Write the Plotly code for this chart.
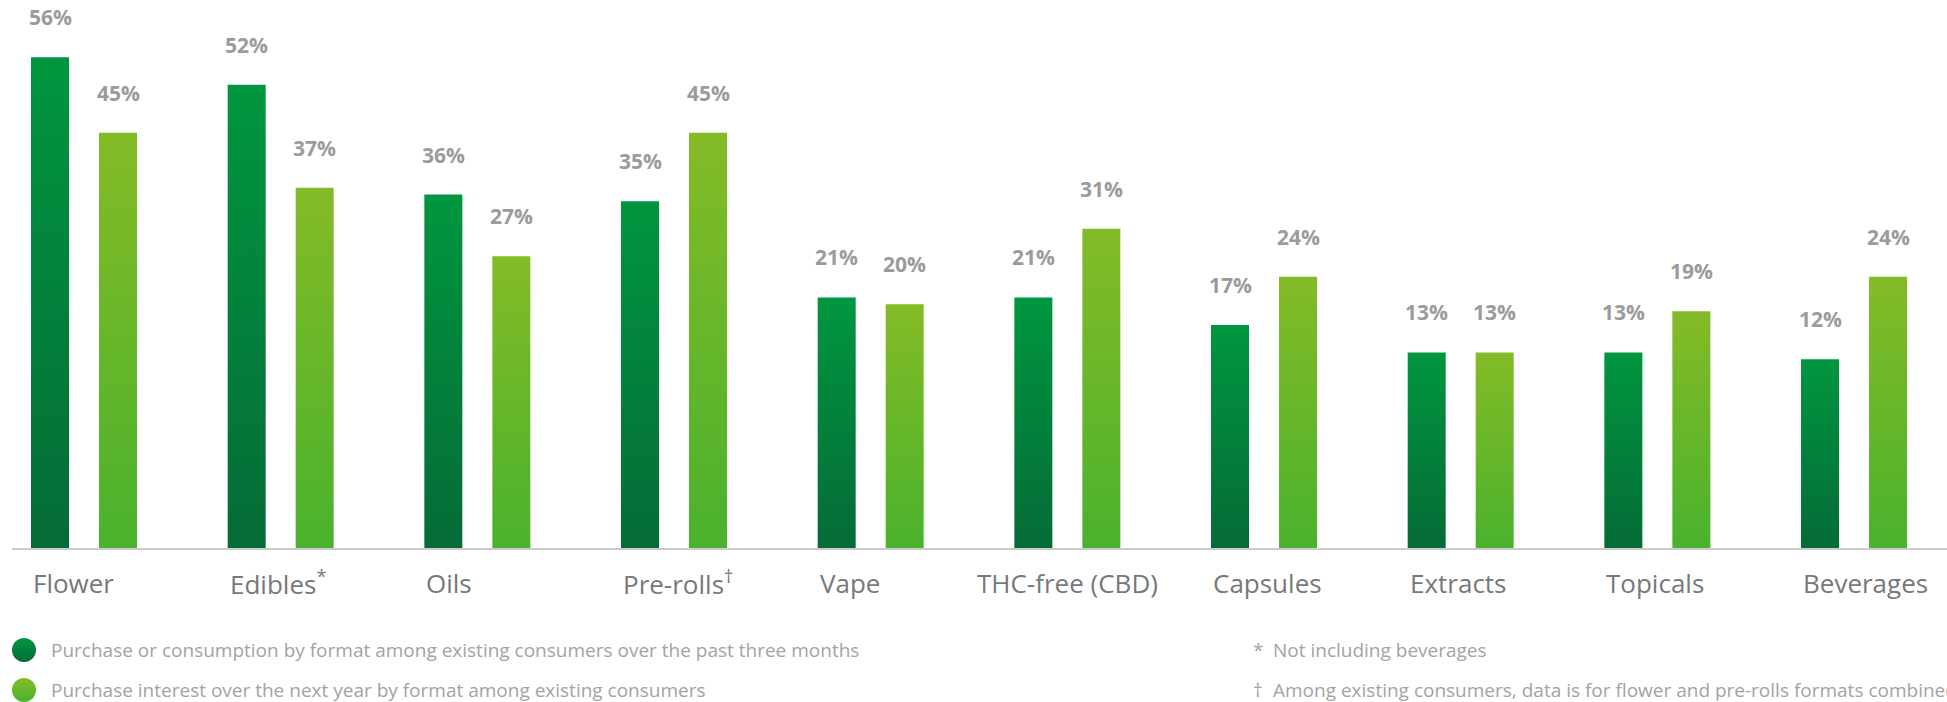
import plotly.graph_objects as go

# ---- data -------------------------------------------------------------
categories = ["Flower", "Edibles", "Oils", "Pre-rolls", "Vape",
              "THC-free (CBD)", "Capsules", "Extracts", "Topicals", "Beverages"]
category_marks = ["", "*", "", "†", "", "", "", "", "", ""]
past_three_months = [56, 52, 36, 35, 21, 21, 17, 13, 13, 12]
next_year_interest = [45, 37, 27, 45, 20, 31, 24, 13, 19, 24]

series_names = [
    "Purchase or consumption by format among existing consumers over the past three months",
    "Purchase interest over the next year by format among existing consumers",
]
footnotes = [("*", "Not including beverages"),
             ("†", "Among existing consumers, data is for flower and pre-rolls formats combined")]

# ---- layout geometry --------------------------------------------------
W, H = 1947, 702
PLOT_LEFT = 12          # px where the baseline starts
BASELINE = 548          # px from top of the baseline
GROUP_PX = 196.67       # px between category groups
FIRST_CENTER = 84       # px of the first group centre
AXIS_FLOOR = -15.5      # value at the baseline
PX_PER_PCT = 6.864

y_top = AXIS_FLOOR + BASELINE / PX_PER_PCT
x_lo = -(FIRST_CENTER - PLOT_LEFT) / GROUP_PX
x_hi = x_lo + (W - PLOT_LEFT) / GROUP_PX

BAR_OFFSET = 34 / GROUP_PX     # bar centre offset from group centre
BAR_HALF = 19 / GROUP_PX       # half bar width

# gradient colours (bottom, top)
dark_grad = ("#056b37", "#00963f")
light_grad = ("#4ab22d", "#84bb26")

LABEL_GREY = "#9b9b9b"
CAT_GREY = "#76787b"
NOTE_GREY = "#a3a3a3"
FONT = "Open Sans"
NOTE_SIZE = 19

fig = go.Figure()

series = [(past_three_months, -BAR_OFFSET, dark_grad),
          (next_year_interest, BAR_OFFSET, light_grad)]

annotations = []
for values, offset, grad in series:
    for i, v in enumerate(values):
        xc = i + offset
        xl, xr = xc - BAR_HALF, xc + BAR_HALF
        fig.add_trace(go.Scatter(
            x=[xl, xr, xr, xl, xl],
            y=[AXIS_FLOOR, AXIS_FLOOR, v, v, AXIS_FLOOR],
            mode="lines", fill="toself",
            line=dict(width=0, color=grad[1]),
            fillcolor=grad[1],
            fillgradient=dict(type="vertical", start=AXIS_FLOOR, stop=v,
                              colorscale=[[0, grad[0]], [1, grad[1]]]),
            hoverinfo="skip", showlegend=False,
        ))
        annotations.append(dict(
            x=xc, y=v, xref="x", yref="y", text=f"{v}%",
            showarrow=False, yanchor="bottom", xanchor="center", yshift=24,
            font=dict(family=FONT, size=21, color=LABEL_GREY, weight="bold"),
        ))

# category labels under the baseline
CAT_Y = 1 - 583 / H
for i, (name, mark) in enumerate(zip(categories, category_marks)):
    text = name + (f"<sup>{mark}</sup>" if mark else "")
    centred = name.startswith("THC")
    annotations.append(dict(
        x=i if centred else i - BAR_OFFSET - BAR_HALF,
        y=CAT_Y, xref="x", yref="paper", text=text, showarrow=False,
        xanchor="center" if centred else "left", yanchor="middle",
        font=dict(family=FONT, size=26, color=CAT_GREY),
    ))

# legend entries and footnotes
ROW_Y = [650, 690]
for k, name in enumerate(series_names):
    annotations.append(dict(
        x=49 / W, y=1 - ROW_Y[k] / H, xref="paper", yref="paper",
        text=name, showarrow=False, xanchor="left", yanchor="middle",
        font=dict(family=FONT, size=NOTE_SIZE, color=NOTE_GREY),
    ))
for k, (sym, note) in enumerate(footnotes):
    annotations.append(dict(
        x=1251 / W, y=1 - ROW_Y[k] / H, xref="paper", yref="paper",
        text=sym, showarrow=False, xanchor="left", yanchor="middle",
        font=dict(family=FONT, size=NOTE_SIZE, color=NOTE_GREY),
    ))
    annotations.append(dict(
        x=1271 / W, y=1 - ROW_Y[k] / H, xref="paper", yref="paper",
        text=note, showarrow=False, xanchor="left", yanchor="middle",
        font=dict(family=FONT, size=NOTE_SIZE, color=NOTE_GREY),
    ))

# legend swatches (gradient dots) on a full-page overlay axis
for k, grad in enumerate([dark_grad, light_grad]):
    fig.add_trace(go.Scatter(
        x=[24], y=[ROW_Y[k]], xaxis="x2", yaxis="y2", mode="markers",
        marker=dict(size=24, color=grad[1], line=dict(width=0),
                    gradient=dict(type="vertical", color=grad[0])),
        hoverinfo="skip", showlegend=False,
    ))

fig.update_layout(
    width=W, height=H,
    margin=dict(l=0, r=0, t=0, b=0),
    paper_bgcolor="white", plot_bgcolor="rgba(0,0,0,0)",
    font=dict(family=FONT),
    showlegend=False,
    xaxis=dict(domain=[PLOT_LEFT / W, 1], range=[x_lo, x_hi],
               showgrid=False, zeroline=False, showticklabels=False,
               ticks="", showline=True, linecolor="rgba(160,160,160,0.55)",
               linewidth=2, layer="above traces", fixedrange=True),
    yaxis=dict(domain=[1 - BASELINE / H, 1], range=[AXIS_FLOOR, y_top],
               showgrid=False, zeroline=False, showticklabels=False,
               showline=False, fixedrange=True),
    xaxis2=dict(domain=[0, 1], range=[0, W], visible=False,
                anchor="y2", fixedrange=True),
    yaxis2=dict(domain=[0, 1], range=[H, 0], visible=False,
                anchor="x2", fixedrange=True),
    annotations=annotations,
)

fig.write_html("out.html")
